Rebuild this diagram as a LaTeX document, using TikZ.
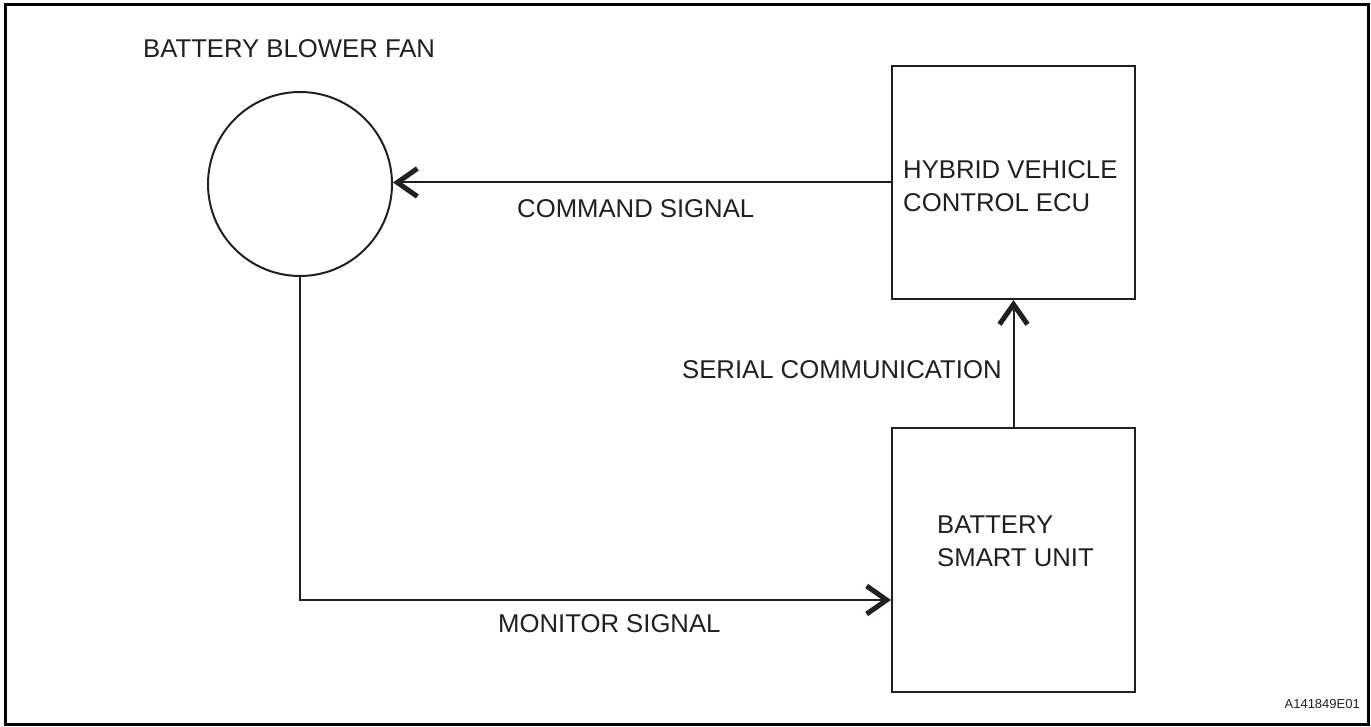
\documentclass[tikz,border=0pt]{standalone}
\usepackage{fontspec}
\setmainfont{Liberation Sans}
\usetikzlibrary{arrows.meta}
\definecolor{ink}{HTML}{231F20}
\tikzset{
  lbl/.style={inner sep=0pt, anchor=base west, font=\fontsize{25.7}{33}\selectfont, text=ink},
  boxnode/.style={draw=ink, line width=2pt, rectangle, inner sep=0pt},
  conn/.style={draw=ink, line width=2pt},
  arr/.style={conn, -{Straight Barb[length=20pt, width=28pt, line width=5pt]}},
}
\begin{document}
\begin{tikzpicture}[x=1pt, y=-1pt]
\useasboundingbox (0,0) rectangle (1371,727);
\draw[line width=3pt, black] (5.5,4.5) rectangle (1368,724);
% nodes
\node[boxnode, circle, minimum size=184pt] (fan) at (300,184) {};
\node[boxnode, minimum width=243pt, minimum height=233pt] (hv) at (1013.5,182.5) {};
\node[boxnode, minimum width=243pt, minimum height=264pt] (bsu) at (1013.5,560) {};
% labels
\node[lbl] (tfan) at (143,58) {BATTERY BLOWER FAN};
\node[lbl, align=left] (thv) at (903,211.5) {HYBRID VEHICLE\\CONTROL ECU};
\node[lbl, align=left] (tbsu) at (937,566) {BATTERY\\SMART UNIT};
\node[lbl] (tcmd) at (517,218) {COMMAND SIGNAL};
\node[lbl] (tser) at (682,378) {SERIAL COMMUNICATION};
\node[lbl] (tmon) at (498,632) {MONITOR SIGNAL};
\node[inner sep=0pt, anchor=base east, font=\fontsize{13}{15}\selectfont, text=ink] (tid) at (1360,708) {A141849E01};
% connectors
\draw[arr] (hv.west) -- (hv.west -| fan.east);
\draw[arr] (fan.south) |- ([yshift=-40pt]bsu.west);
\draw[arr] (bsu.north) -- (hv.south);
\end{tikzpicture}
\end{document}
